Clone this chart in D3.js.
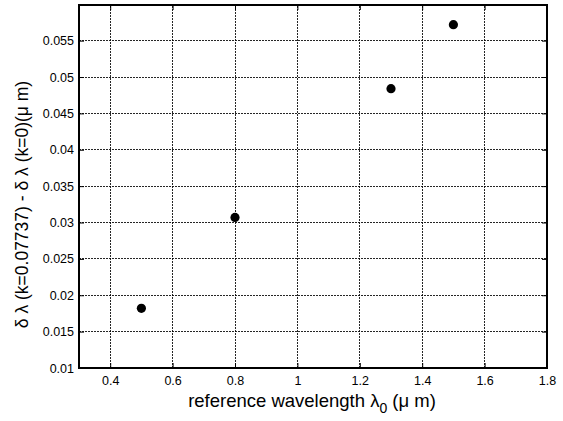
<!DOCTYPE html>
<html>
<head>
<script src="https://d3js.org/d3.v7.min.js"></script>
<style>
  body { margin: 0; background: #fff; }
  text { font-family: "Liberation Sans", Arial, sans-serif; }
</style>
</head>
<body>
<div id="container"></div>
<script>
// reference wavelength (um) and the wavelength difference (um)
var lambda0 = [0.5, 0.8, 1.3, 1.5];
var dLambda = [0.0182, 0.0307, 0.0484, 0.0572];
var xTicks = [0.4, 0.6, 0.8, 1, 1.2, 1.4, 1.6, 1.8];
var yTicks = [0.01, 0.015, 0.02, 0.025, 0.03, 0.035, 0.04, 0.045, 0.05, 0.055];

var width = 563, height = 421;
var m = {left: 79, right: 16, top: 5, bottom: 53};

var x = d3.scaleLinear().domain([0.3, 1.8]).range([m.left, width - m.right]);
var y = d3.scaleLinear().domain([0.01, 0.0599]).range([height - m.bottom, m.top]);

var svg = d3.select("#container").append("svg")
    .attr("width", width).attr("height", height);

// grid
var grid = svg.append("g")
    .attr("stroke", "#000").attr("stroke-width", 1).attr("stroke-opacity", 0.85)
    .attr("stroke-dasharray", "2,1").attr("shape-rendering", "crispEdges");
grid.selectAll(".vx").data(xTicks.filter(d => d < 1.8)).join("line")
    .attr("x1", d => x(d)).attr("x2", d => x(d))
    .attr("y1", y.range()[0]).attr("y2", y.range()[1]);
grid.selectAll(".hy").data(yTicks.filter(d => d > 0.01)).join("line")
    .attr("y1", d => y(d)).attr("y2", d => y(d))
    .attr("x1", x.range()[0]).attr("x2", x.range()[1]);

// box
svg.append("rect")
    .attr("x", x.range()[0]).attr("y", y.range()[1])
    .attr("width", x.range()[1] - x.range()[0])
    .attr("height", y.range()[0] - y.range()[1])
    .attr("fill", "none").attr("stroke", "#000").attr("stroke-width", 1.3)
    .attr("shape-rendering", "crispEdges");

// axes with inward ticks
var xAxis = d3.axisBottom(x).tickValues(xTicks).tickSizeInner(-5).tickSizeOuter(0)
    .tickPadding(8).tickFormat(d3.format("~g"));
var gx = svg.append("g").attr("transform", `translate(0,${y.range()[0]})`).call(xAxis);
var yAxis = d3.axisLeft(y).tickValues(yTicks).tickSizeInner(-5).tickSizeOuter(0)
    .tickPadding(5).tickFormat(d3.format("~g"));
var gy = svg.append("g").attr("transform", `translate(${x.range()[0]},0)`).call(yAxis);
var gy2 = svg.append("g").attr("transform", `translate(${x.range()[1]},0)`)
    .call(d3.axisRight(y).tickValues(yTicks).tickSizeInner(-5).tickSizeOuter(0).tickFormat(""));
var gx2 = svg.append("g").attr("transform", `translate(0,${y.range()[1]})`)
    .call(d3.axisTop(x).tickValues(xTicks).tickSizeInner(-5).tickSizeOuter(0).tickFormat(""));
[gx, gy, gy2, gx2].forEach(g => {
  g.select(".domain").remove();
  g.selectAll("text").attr("font-size", 12.5).attr("fill", "#000")
    .attr("font-family", "Liberation Sans, Arial, sans-serif");
});

// points
svg.append("g").selectAll("circle")
    .data(lambda0.map((d, i) => [d, dLambda[i]]))
    .join("circle")
    .attr("cx", d => x(d[0])).attr("cy", d => y(d[1]))
    .attr("r", 4.6).attr("fill", "#000");

// labels
var xl = svg.append("text")
    .attr("x", 312).attr("y", 407)
    .attr("text-anchor", "middle").attr("font-size", 18.5);
xl.append("tspan").text("reference wavelength \u03bb");
xl.append("tspan").attr("font-size", 14).attr("dy", 6).text("0");
xl.append("tspan").attr("dy", -6).text(" (\u03bc m)");

svg.append("text")
    .attr("transform", `translate(28,${(y.range()[0] + y.range()[1]) / 2 + 18}) rotate(-90)`)
    .attr("text-anchor", "middle").attr("font-size", 17.5)
    .text("\u03b4 \u03bb (k=0.07737) - \u03b4 \u03bb (k=0)(\u03bc m)");
</script>
</body>
</html>
